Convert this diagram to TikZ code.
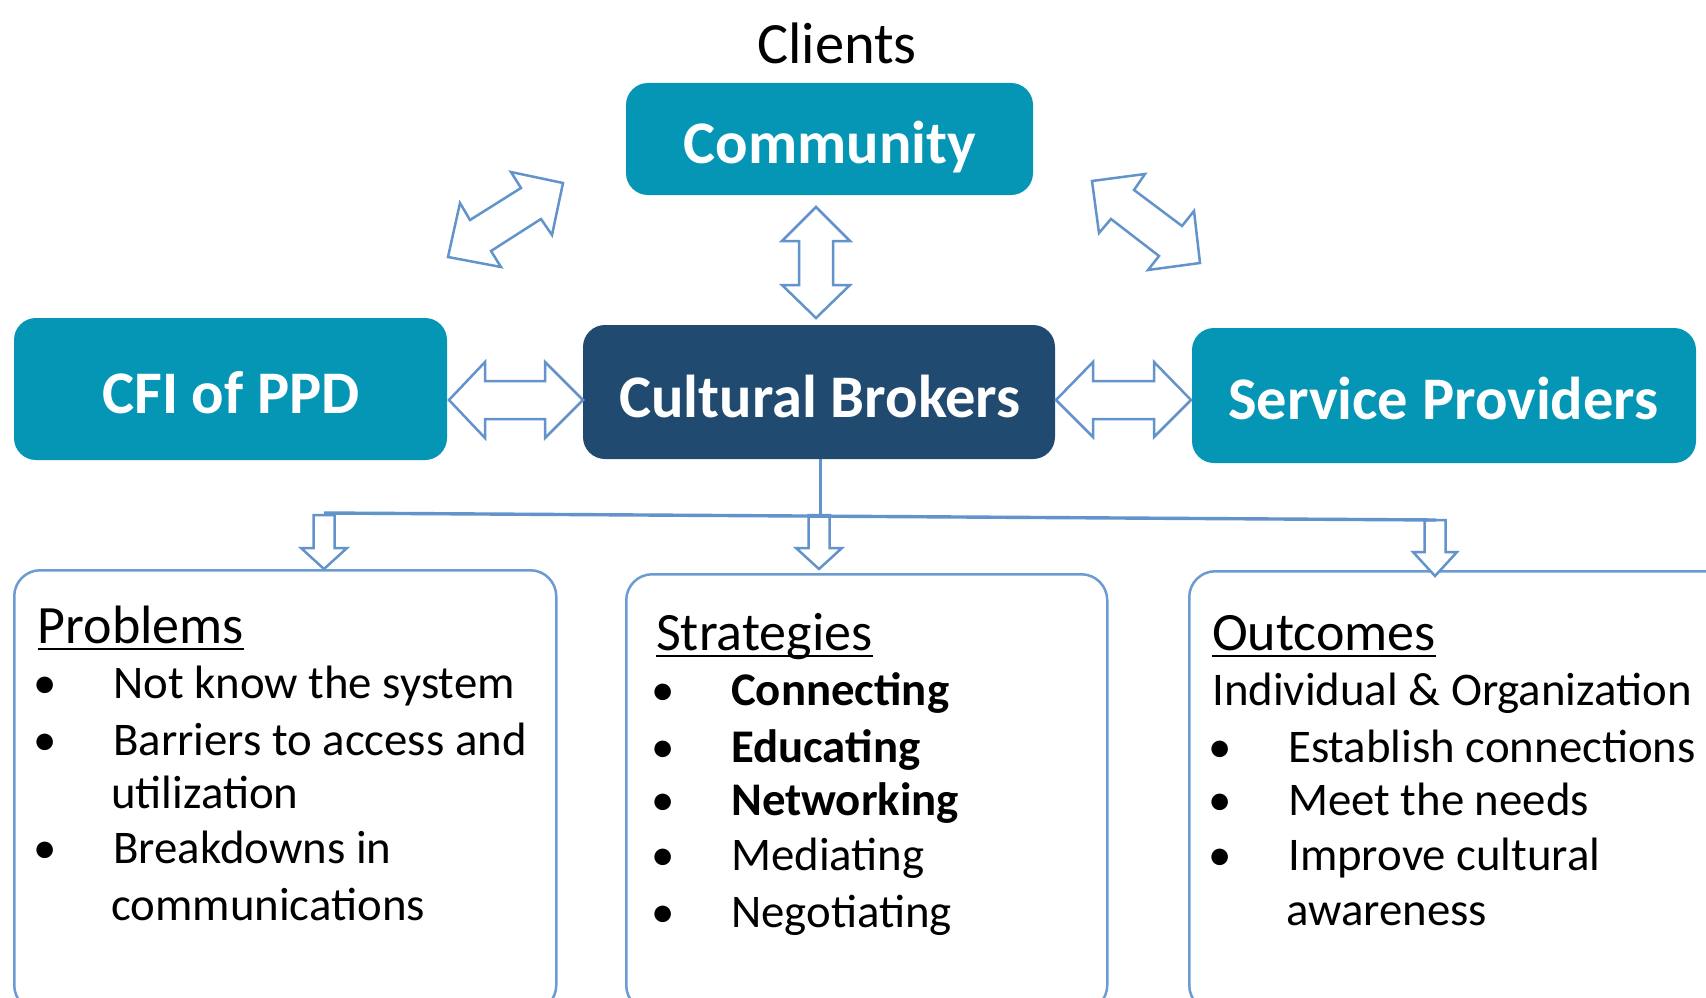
\documentclass[tikz,border=0pt]{standalone}
\usepackage{fontspec}
\setmainfont{Carlito}
\definecolor{teal1}{HTML}{0595B5}
\definecolor{navy1}{HTML}{204A6F}
\definecolor{arrowblue}{HTML}{6393CB}
\definecolor{boxblue}{HTML}{6C9BD2}
\begin{document}
\begin{tikzpicture}[x=1pt,y=-1pt,
  tealbox/.style={fill=teal1, rounded corners=22pt, inner sep=0pt},
  navybox/.style={fill=navy1, rounded corners=22pt, inner sep=0pt},
  outbox/.style={draw=boxblue, line width=2.5pt, fill=white, rounded corners=26pt},
  blockarrow/.style={draw=arrowblue, line width=2.5pt, fill=white, line join=miter},
  boxtext/.style={text=white, inner sep=0pt, anchor=base, font=\fontsize{60.5}{72}\selectfont\bfseries},
  headtext/.style={inner sep=0pt, anchor=base west, font=\fontsize{54}{64}\selectfont},
  itemtext/.style={inner sep=0pt, anchor=base west, font=\fontsize{46.8}{55}\selectfont},
  bolditem/.style={inner sep=0pt, anchor=base west, font=\fontsize{46.8}{55}\selectfont\bfseries},
  bullettext/.style={inner sep=0pt, anchor=base, font=\fontsize{46.8}{55}\selectfont},
  uline/.style={line width=2.6pt, black}
]
\useasboundingbox (0,0) rectangle (1706,998);
\fill[white] (0,0) rectangle (1706,998);

% top label
\node[inner sep=0pt, anchor=base, font=\fontsize{58.5}{70}\selectfont] (clients) at (837,64) {Clients};

% main boxes
\node[tealbox, minimum width=407pt, minimum height=112pt] (comm) at (829.5,139) {};
\node[boxtext] (commtxt) at (830,163) {Community};
\node[tealbox, minimum width=433pt, minimum height=142pt] (cfi) at (230.5,389) {};
\node[boxtext] (cfitxt) at (231,413) {CFI of PPD};
\node[navybox, minimum width=472pt, minimum height=134pt] (cb) at (819,392) {};
\node[boxtext] (cbtxt) at (820,417) {Cultural Brokers};
\node[tealbox, minimum width=504pt, minimum height=135pt] (sp) at (1444,395.5) {};
\node[boxtext] (sptxt) at (1443.5,419) {Service Providers};

% block arrows
\draw[blockarrow] (563,183) -- (552,235) -- (541,219) -- (491,251) -- (501,267) -- (448,257) -- (460,203) -- (470,220) -- (521,188) -- (511,172) -- cycle;
\draw[blockarrow] (1092,181) -- (1145,174) -- (1134,190) -- (1182,226) -- (1194,211) -- (1200,263) -- (1148,270) -- (1159,256) -- (1111,219) -- (1099,233) -- cycle;
\draw[blockarrow] (816,207) -- (850,241) -- (833,241) -- (833,285) -- (850,285) -- (816,318) -- (782,285) -- (799,285) -- (799,241) -- (782,241) -- cycle;
\draw[blockarrow] (449,400) -- (485,362) -- (485,381) -- (545,381) -- (545,362) -- (583,400) -- (545,438) -- (545,419) -- (485,419) -- (485,438) -- cycle;
\draw[blockarrow] (1056,400) -- (1093,362) -- (1093,381) -- (1154,381) -- (1154,362) -- (1191,400) -- (1154,437) -- (1154,419) -- (1093,419) -- (1093,437) -- cycle;

% bottom boxes
\node[outbox, minimum width=542pt, minimum height=441pt, anchor=north west] (prob) at (13,569) {};
\node[outbox, minimum width=481pt, minimum height=437pt, anchor=north west] (strat) at (625,573) {};
\node[outbox, minimum width=542pt, minimum height=440pt, anchor=north west] (outc) at (1188,570) {};

% down arrows
\draw[blockarrow] (313.5,515) -- (334.5,515) -- (334.5,548) -- (347,548) -- (324,569) -- (301,548) -- (313.5,548) -- cycle;
\draw[blockarrow] (808.5,515) -- (829.5,515) -- (829.5,548) -- (842,548) -- (819,569) -- (796,548) -- (808.5,548) -- cycle;
\draw[blockarrow] (1424.5,520) -- (1445.5,520) -- (1445.5,552) -- (1457,552) -- (1435,576) -- (1413,552) -- (1424.5,552) -- cycle;

% connector lines
\coordinate (hl) at (324,513);
\coordinate (hm) at (820,515);
\coordinate (hr) at (1436,520);
\draw[arrowblue, line width=3.4pt] (hl) -- (hr);
\draw[arrowblue, line width=3pt] (cb.south -| hm) -- (hm);

% Problems
\node[headtext] (probh) at (37.5,643) {Problems};
\draw[uline] ([yshift=-6pt]probh.base west) -- ([yshift=-6pt]probh.base east);
\node[bullettext] (pb1) at (45,698) {•};
\node[itemtext] (p1) at (113,698) {Not know the system};
\node[bullettext] (pb2) at (45,755) {•};
\node[itemtext] (p2) at (113,755) {Barriers to access and};
\node[itemtext] (p2b) at (111,808) {utilization};
\node[bullettext] (pb3) at (45,863) {•};
\node[itemtext] (p3) at (113,863) {Breakdowns in};
\node[itemtext] (p3b) at (111,920) {communications};

% Strategies
\node[headtext] (strath) at (656,650) {Strategies};
\draw[uline] ([yshift=-6pt]strath.base west) -- ([yshift=-6pt]strath.base east);
\node[bullettext] (sb1) at (663,705) {•};
\node[bolditem] (s1) at (731,705) {Connecting};
\node[bullettext] (sb2) at (663,762) {•};
\node[bolditem] (s2) at (731,762) {Educating};
\node[bullettext] (sb3) at (663,815) {•};
\node[bolditem] (s3) at (731,815) {Networking};
\node[bullettext] (sb4) at (663,870) {•};
\node[itemtext] (s4) at (731,870) {Mediating};
\node[bullettext] (sb5) at (663,927) {•};
\node[itemtext] (s5) at (731,927) {Negotiating};

% Outcomes
\node[headtext] (outh) at (1212,650) {Outcomes};
\draw[uline] ([yshift=-6pt]outh.base west) -- ([yshift=-6pt]outh.base east);
\node[itemtext] (o0) at (1212,705) {Individual \& Organization};
\node[bullettext] (ob1) at (1220,762) {•};
\node[itemtext] (o1) at (1288,762) {Establish connections};
\node[bullettext] (ob2) at (1220,815) {•};
\node[itemtext] (o2) at (1288,815) {Meet the needs};
\node[bullettext] (ob3) at (1220,870) {•};
\node[itemtext] (o3) at (1288,870) {Improve cultural};
\node[itemtext] (o3b) at (1286,925) {awareness};
\end{tikzpicture}
\end{document}
